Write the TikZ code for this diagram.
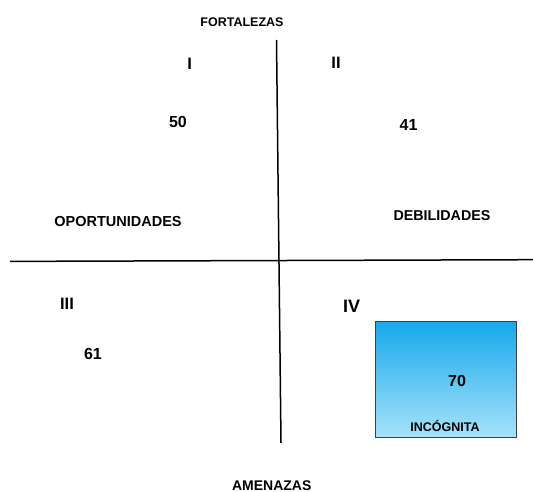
\documentclass[tikz,border=0pt]{standalone}
\usepackage{fontspec}
\setmainfont{Liberation Sans}
\begin{document}
\begin{tikzpicture}[x=1pt,y=-1pt,
  lbl/.style={inner sep=0pt,anchor=base,font=\bfseries\fontsize{#1}{#1}\selectfont},
  axis/.style={line width=1.5pt,black},
  boxstyle/.style={draw=black!75,line width=0.6pt,top color=boxtop,bottom color=boxbot}]
\definecolor{boxtop}{HTML}{16A8EC}
\definecolor{boxbot}{HTML}{A6E3F9}
\useasboundingbox (0,0) rectangle (533,492);
% axes
\coordinate (vtop) at (276.5,40);
\coordinate (vbot) at (281,443);
\coordinate (hleft) at (10,261.4);
\coordinate (hright) at (533,259.7);
\draw[axis] (vtop) -- (vbot);
\draw[axis] (hleft) -- (hright);
% box
\node[boxstyle,minimum width=141pt,minimum height=116.6pt,inner sep=0pt,anchor=north west] (box) at (375,320.7) {};
% labels
\node[lbl=12.5] (fort) at (242,26.3) {FORTALEZAS};
\node[lbl=16.5] (q1) at (189.7,69.6) {I};
\node[lbl=16.5] (q2) at (336,68.6) {II};
\node[lbl=16] (n50) at (178,127.4) {50};
\node[lbl=16] (n41) at (408.5,130.8) {41};
\node[lbl=14.5] (opor) at (118,226) {OPORTUNIDADES};
\node[lbl=14.3] (debi) at (442,220) {DEBILIDADES};
\node[lbl=16.5] (q3) at (67,309) {III};
\node[lbl=18] (q4) at (351.5,312.6) {IV};
\node[lbl=16] (n61) at (93,359) {61};
\node[lbl=16] (n70) at (457,386) {70};
\node[lbl=12.5] (inc) at (445,431) {INCÓGNITA};
\node[lbl=14] (amen) at (271.7,490.5) {AMENAZAS};
\end{tikzpicture}
\end{document}
